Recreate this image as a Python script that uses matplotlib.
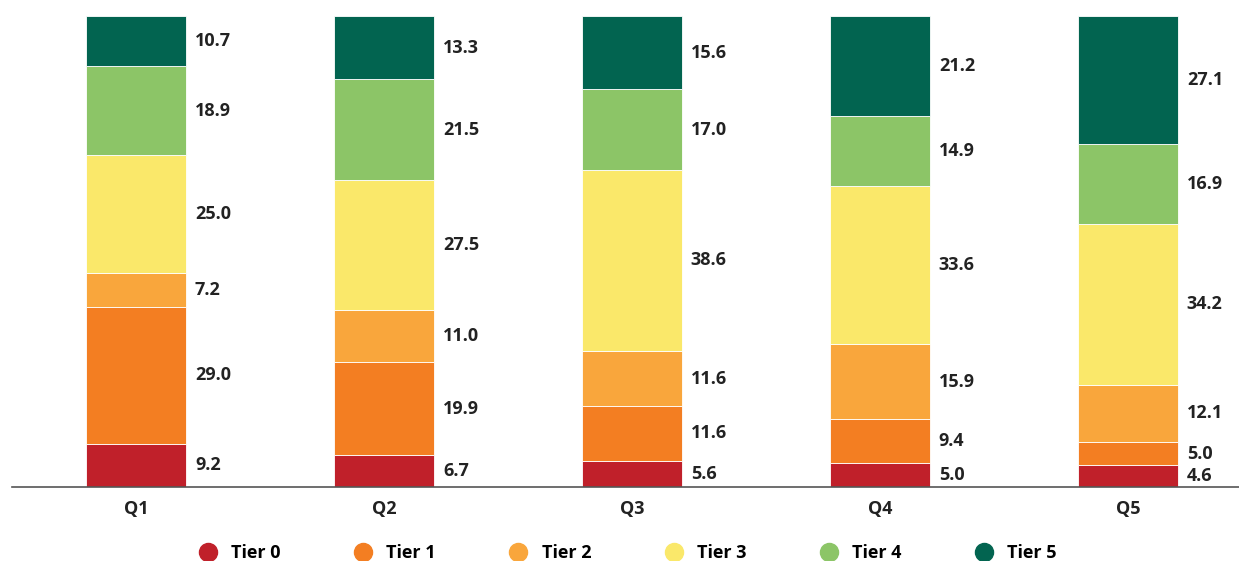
import matplotlib.pyplot as plt
import numpy as np

quarters = ["Q1", "Q2", "Q3", "Q4", "Q5"]
tiers = ["Tier 0", "Tier 1", "Tier 2", "Tier 3", "Tier 4", "Tier 5"]
tier0 = [9.2, 6.7, 5.6, 5.0, 4.6]
tier1 = [29.0, 19.9, 11.6, 9.4, 5.0]
tier2 = [7.2, 11.0, 11.6, 15.9, 12.1]
tier3 = [25.0, 27.5, 38.6, 33.6, 34.2]
tier4 = [18.9, 21.5, 17.0, 14.9, 16.9]
tier5 = [10.7, 13.3, 15.6, 21.2, 27.1]
colors = ["#C0202A", "#F37E22", "#F9A63C", "#FAE86A", "#8CC567", "#026450"]

plt.rcParams["font.family"] = ["Open Sans", "DejaVu Sans"]

fig = plt.figure(figsize=(12.39, 5.61), dpi=100)
ax = fig.add_axes([0.0097, 0.1319, 0.9903, 0.8396])

x = np.arange(len(quarters))
width = 0.403
bottom = np.zeros(len(quarters))
for name, vals, c in zip(tiers, [tier0, tier1, tier2, tier3, tier4, tier5], colors):
    vals = np.array(vals)
    ax.bar(x, vals, width, bottom=bottom, color=c, label=name,
           edgecolor="white", linewidth=0.6)
    for xi, b, v in zip(x, bottom, vals):
        ax.text(xi + width / 2 + 0.036, b + v / 2, f"{v:.1f}", ha="left",
                va="center", fontsize=13, fontweight="bold", color="#222222")
    bottom += vals

ax.set_xlim(-0.5, 4.448)
ax.set_ylim(0, 100)
ax.set_yticks([])
ax.set_xticks(x)
ax.set_xticklabels(quarters, fontsize=13, fontweight="bold", color="#222222")
ax.tick_params(axis="x", length=0, pad=9)
for s in ["top", "right", "left"]:
    ax.spines[s].set_visible(False)
ax.spines["bottom"].set_color("#555555")
ax.spines["bottom"].set_linewidth(1.2)

handles = [plt.Line2D([], [], marker="o", linestyle="", markersize=13,
                      markerfacecolor=c, markeredgecolor=c) for c in colors]
fig.legend(handles, tiers, loc="center", bbox_to_anchor=(0.503, 0.014),
           ncol=6, frameon=False, handletextpad=0.3, columnspacing=3.55,
           prop={"size": 13, "weight": "bold"})

fig.savefig("out.png", dpi=100)
